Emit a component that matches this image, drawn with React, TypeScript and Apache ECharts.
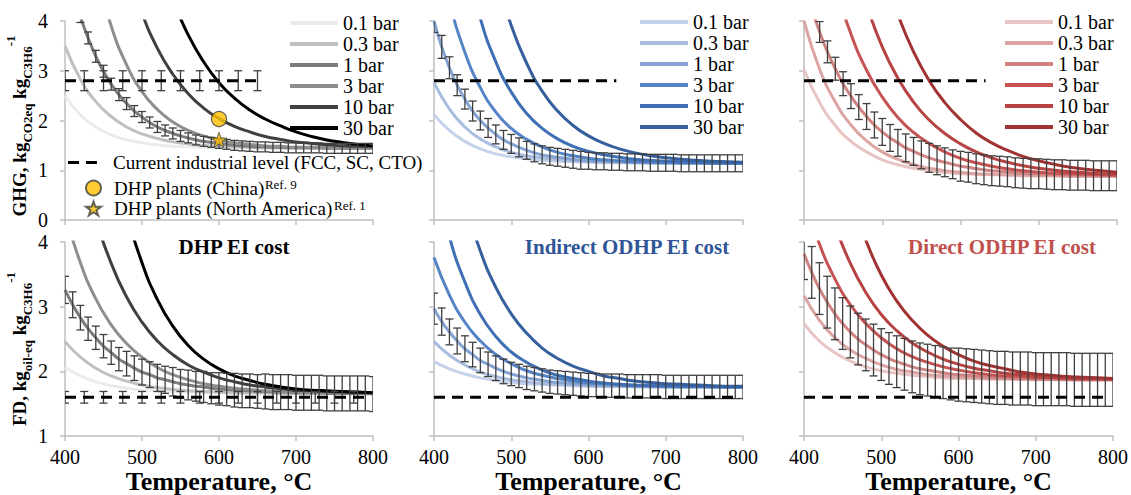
import React, { useEffect, useRef } from 'react';
import * as echarts from 'echarts';

const FONT = 'Liberation Serif';

const pressures = ['0.1 bar', '0.3 bar', '1 bar', '3 bar', '10 bar', '30 bar'];
const temps20 = [400, 420, 440, 460, 480, 500, 520, 540, 560, 580, 600, 620, 640, 660, 680, 700, 720, 740, 760, 780, 800];
const temps10 = [400, 410, 420, 430, 440, 450, 460, 470, 480, 490, 500, 510, 520, 530, 540, 550, 560, 570, 580, 590, 600, 610, 620, 630, 640, 650, 660, 670, 680, 690, 700, 710, 720, 730, 740, 750, 760, 770, 780, 790, 800];

// Current industrial level (dashed)
const ghgLevel = 2.8;
const fdLevel = 1.6;
const ghgDhpSpan = [400, 652];
const ghgIndSpan = [400, 636];
const ghgDirSpan = [400, 632];
const fdSpan = [400, 792];
const levelTempsGhg = [400, 425, 450, 475, 500, 525, 550, 575, 600, 625, 650];
const levelTempsFd = [400, 425, 450, 475, 500, 525, 550, 575, 600, 625, 650, 675, 700, 725, 750, 775];
const ghgLevelErr = 0.2;
const fdLevelErr = 0.09;

// DHP plants
const chinaPlant = [600, 2.03];
const naPlant = [600, 1.61];
const chinaRef = 'Ref. 9';
const naRef = 'Ref. 1';

// ---------- GHG, DHP ----------
const ghgDhp01 = [2.50, 2.11, 1.87, 1.71, 1.61, 1.55, 1.51, 1.48, 1.47, 1.46, 1.45, 1.45, 1.45, 1.44, 1.44, 1.44, 1.44, 1.44, 1.44, 1.44, 1.44];
const ghgDhp03 = [3.50, 2.83, 2.38, 2.08, 1.87, 1.73, 1.64, 1.57, 1.53, 1.50, 1.48, 1.47, 1.46, 1.45, 1.45, 1.45, 1.44, 1.44, 1.44, 1.44, 1.44];
const ghgDhp1 = [5.24, 4.62, 4.09, 3.66, 3.29, 2.99, 2.73, 2.52, 2.34, 2.19, 2.07, 1.96, 1.87, 1.80, 1.74, 1.69, 1.65, 1.61, 1.58, 1.56, 1.54, 1.52, 1.50, 1.49, 1.48, 1.47, 1.47, 1.46, 1.46, 1.45, 1.45, 1.45, 1.45, 1.45, 1.44, 1.44, 1.44, 1.44, 1.44, 1.44, 1.44];
const ghgDhp1Err = [0.12, 0.12, 0.12, 0.12, 0.12, 0.12, 0.12, 0.12, 0.12, 0.11, 0.11, 0.11, 0.11, 0.11, 0.11, 0.11, 0.10, 0.10, 0.10, 0.10, 0.10, 0.10, 0.10, 0.10, 0.10, 0.10, 0.10, 0.10, 0.10, 0.10, 0.10, 0.10, 0.10, 0.10, 0.10, 0.10, 0.10, 0.10, 0.10, 0.10, 0.10];
const ghgDhp3 = [null, null, 5.05, 3.90, 3.12, 2.58, 2.22, 1.97, 1.80, 1.69, 1.61, 1.55, 1.52, 1.49, 1.48, 1.46, 1.46, 1.45, 1.45, 1.44, 1.44];
const ghgDhp10 = [null, null, null, null, 5.12, 4.16, 3.45, 2.93, 2.54, 2.25, 2.04, 1.88, 1.77, 1.68, 1.62, 1.57, 1.54, 1.51, 1.49, 1.48, 1.47];
const ghgDhp30 = [null, null, null, null, null, null, 5.37, 4.43, 3.72, 3.18, 2.76, 2.45, 2.21, 2.03, 1.89, 1.77, 1.68, 1.61, 1.56, 1.52, 1.49];

// ---------- GHG, indirect ODHP ----------
const ghgInd01 = [2.12, 1.80, 1.58, 1.43, 1.33, 1.27, 1.23, 1.20, 1.18, 1.17, 1.16, 1.15, 1.15, 1.15, 1.14, 1.14, 1.14, 1.14, 1.14, 1.14, 1.14];
const ghgInd03 = [2.76, 2.23, 1.87, 1.63, 1.47, 1.36, 1.29, 1.25, 1.21, 1.19, 1.18, 1.17, 1.16, 1.15, 1.15, 1.15, 1.14, 1.14, 1.14, 1.14, 1.14];
const ghgInd1 = [4.00, 3.48, 3.06, 2.71, 2.43, 2.19, 2.00, 1.85, 1.72, 1.61, 1.53, 1.46, 1.40, 1.35, 1.31, 1.28, 1.26, 1.24, 1.22, 1.20, 1.19, 1.18, 1.18, 1.17, 1.17, 1.16, 1.16, 1.16, 1.15, 1.15, 1.15, 1.15, 1.14, 1.14, 1.14, 1.14, 1.14, 1.14, 1.14, 1.14, 1.14];
const ghgInd1Err = [0.23, 0.23, 0.22, 0.21, 0.20, 0.20, 0.19, 0.19, 0.19, 0.19, 0.19, 0.19, 0.18, 0.18, 0.18, 0.18, 0.18, 0.18, 0.18, 0.18, 0.17, 0.17, 0.17, 0.17, 0.17, 0.17, 0.17, 0.17, 0.17, 0.17, 0.17, 0.17, 0.17, 0.17, 0.17, 0.17, 0.17, 0.17, 0.17, 0.17, 0.17];
const ghgInd3 = [5.94, 4.41, 3.37, 2.66, 2.17, 1.84, 1.62, 1.47, 1.36, 1.29, 1.24, 1.21, 1.19, 1.17, 1.16, 1.15, 1.15, 1.15, 1.14, 1.14, 1.14];
const ghgInd10 = [null, 7.08, 5.30, 4.05, 3.18, 2.57, 2.14, 1.84, 1.63, 1.48, 1.38, 1.31, 1.26, 1.22, 1.20, 1.18, 1.17, 1.16, 1.15, 1.15, 1.14];
const ghgInd30 = [null, null, null, 6.43, 4.97, 3.91, 3.15, 2.59, 2.19, 1.90, 1.69, 1.54, 1.43, 1.35, 1.29, 1.25, 1.22, 1.20, 1.18, 1.17, 1.16];

// ---------- GHG, direct ODHP ----------
const ghgDir01 = [3.02, 2.36, 1.90, 1.58, 1.37, 1.21, 1.11, 1.04, 0.99, 0.96, 0.93, 0.92, 0.91, 0.90, 0.89, 0.89, 0.89, 0.88, 0.88, 0.88, 0.88];
const ghgDir03 = [4.00, 3.03, 2.37, 1.91, 1.59, 1.37, 1.22, 1.11, 1.04, 0.99, 0.96, 0.93, 0.92, 0.91, 0.90, 0.89, 0.89, 0.88, 0.88, 0.88, 0.88];
const ghgDir1 = [4.77, 4.24, 3.78, 3.38, 3.04, 2.74, 2.49, 2.27, 2.08, 1.91, 1.77, 1.65, 1.55, 1.45, 1.38, 1.31, 1.25, 1.20, 1.16, 1.12, 1.08, 1.06, 1.03, 1.01, 0.99, 0.98, 0.97, 0.95, 0.94, 0.93, 0.93, 0.92, 0.91, 0.91, 0.90, 0.90, 0.90, 0.89, 0.89, 0.89, 0.89];
const ghgDir1Err = [0.20, 0.20, 0.21, 0.22, 0.23, 0.24, 0.25, 0.25, 0.26, 0.26, 0.27, 0.27, 0.27, 0.28, 0.28, 0.28, 0.29, 0.29, 0.29, 0.29, 0.30, 0.30, 0.30, 0.30, 0.30, 0.30, 0.30, 0.30, 0.30, 0.30, 0.30, 0.30, 0.30, 0.30, 0.30, 0.30, 0.30, 0.30, 0.30, 0.30, 0.30];
const ghgDir3 = [null, 6.03, 4.72, 3.74, 3.01, 2.47, 2.06, 1.76, 1.54, 1.37, 1.24, 1.15, 1.08, 1.03, 0.99, 0.96, 0.94, 0.93, 0.92, 0.91, 0.90];
const ghgDir10 = [null, null, null, 5.42, 4.32, 3.48, 2.85, 2.37, 2.01, 1.74, 1.53, 1.37, 1.25, 1.16, 1.09, 1.04, 1.00, 0.97, 0.95, 0.93, 0.92];
const ghgDir30 = [null, null, null, null, null, 5.10, 4.13, 3.38, 2.80, 2.36, 2.02, 1.75, 1.55, 1.40, 1.28, 1.19, 1.12, 1.06, 1.02, 0.99, 0.96];

// ---------- FD, DHP ----------
const fdDhp01 = [2.06, 1.93, 1.84, 1.78, 1.74, 1.71, 1.70, 1.69, 1.68, 1.67, 1.67, 1.67, 1.66, 1.66, 1.66, 1.66, 1.66, 1.66, 1.66, 1.66, 1.66];
const fdDhp03 = [2.46, 2.22, 2.05, 1.93, 1.85, 1.79, 1.75, 1.72, 1.70, 1.69, 1.68, 1.67, 1.67, 1.67, 1.66, 1.66, 1.66, 1.66, 1.66, 1.66, 1.66];
const fdDhp1 = [3.26, 3.03, 2.83, 2.66, 2.52, 2.39, 2.29, 2.19, 2.12, 2.05, 1.99, 1.95, 1.90, 1.87, 1.84, 1.81, 1.79, 1.77, 1.76, 1.74, 1.73, 1.72, 1.71, 1.70, 1.70, 1.69, 1.69, 1.68, 1.68, 1.68, 1.67, 1.67, 1.67, 1.67, 1.66, 1.66, 1.66, 1.66, 1.66, 1.66, 1.65];
const fdDhp1Err = [0.21, 0.20, 0.19, 0.18, 0.18, 0.18, 0.18, 0.18, 0.19, 0.19, 0.20, 0.20, 0.21, 0.21, 0.22, 0.22, 0.23, 0.23, 0.24, 0.24, 0.25, 0.25, 0.26, 0.26, 0.26, 0.26, 0.27, 0.27, 0.27, 0.27, 0.27, 0.27, 0.27, 0.27, 0.27, 0.27, 0.27, 0.27, 0.27, 0.27, 0.27];
const fdDhp3 = [4.45, 3.68, 3.12, 2.72, 2.43, 2.22, 2.06, 1.95, 1.87, 1.81, 1.77, 1.74, 1.72, 1.70, 1.69, 1.68, 1.68, 1.67, 1.67, 1.66, 1.66];
const fdDhp10 = [null, 5.34, 4.38, 3.67, 3.15, 2.76, 2.47, 2.26, 2.10, 1.99, 1.90, 1.84, 1.79, 1.76, 1.73, 1.71, 1.70, 1.69, 1.68, 1.67, 1.67];
const fdDhp30 = [null, null, null, 5.58, 4.47, 3.68, 3.11, 2.70, 2.40, 2.19, 2.04, 1.93, 1.86, 1.80, 1.76, 1.73, 1.71, 1.70, 1.69, 1.68, 1.67];

// ---------- FD, indirect ODHP ----------
const fdInd01 = [2.15, 2.04, 1.96, 1.90, 1.86, 1.83, 1.81, 1.80, 1.79, 1.78, 1.77, 1.77, 1.77, 1.76, 1.76, 1.76, 1.76, 1.76, 1.76, 1.76, 1.76];
const fdInd03 = [2.46, 2.25, 2.10, 1.99, 1.92, 1.87, 1.84, 1.81, 1.80, 1.79, 1.78, 1.77, 1.77, 1.77, 1.76, 1.76, 1.76, 1.76, 1.76, 1.76, 1.76];
const fdInd1 = [2.97, 2.77, 2.61, 2.47, 2.35, 2.26, 2.17, 2.11, 2.05, 2.00, 1.96, 1.93, 1.90, 1.88, 1.86, 1.84, 1.83, 1.82, 1.81, 1.80, 1.79, 1.79, 1.78, 1.78, 1.78, 1.77, 1.77, 1.77, 1.77, 1.77, 1.76, 1.76, 1.76, 1.76, 1.76, 1.76, 1.76, 1.76, 1.76, 1.76, 1.76];
const fdInd1Err = [0.24, 0.21, 0.20, 0.20, 0.20, 0.19, 0.19, 0.19, 0.19, 0.19, 0.18, 0.18, 0.18, 0.18, 0.18, 0.18, 0.18, 0.18, 0.18, 0.18, 0.18, 0.18, 0.18, 0.18, 0.18, 0.18, 0.18, 0.18, 0.18, 0.18, 0.18, 0.18, 0.18, 0.18, 0.18, 0.18, 0.18, 0.18, 0.18, 0.18, 0.18];
const fdInd3 = [3.76, 3.18, 2.76, 2.47, 2.26, 2.12, 2.01, 1.94, 1.89, 1.85, 1.82, 1.81, 1.79, 1.78, 1.78, 1.77, 1.77, 1.77, 1.76, 1.76, 1.76];
const fdInd10 = [5.10, 4.08, 3.38, 2.88, 2.54, 2.30, 2.14, 2.02, 1.94, 1.89, 1.85, 1.82, 1.80, 1.79, 1.78, 1.78, 1.77, 1.77, 1.77, 1.76, 1.76];
const fdInd30 = [null, null, 4.63, 3.86, 3.30, 2.89, 2.59, 2.36, 2.20, 2.08, 2.00, 1.93, 1.89, 1.85, 1.83, 1.81, 1.80, 1.79, 1.78, 1.77, 1.77];

// ---------- FD, direct ODHP ----------
const fdDir01 = [2.74, 2.47, 2.29, 2.16, 2.07, 2.01, 1.97, 1.94, 1.92, 1.90, 1.89, 1.89, 1.88, 1.88, 1.88, 1.87, 1.87, 1.87, 1.87, 1.87, 1.87];
const fdDir03 = [3.17, 2.79, 2.52, 2.33, 2.20, 2.10, 2.03, 1.99, 1.95, 1.93, 1.91, 1.90, 1.89, 1.89, 1.88, 1.88, 1.88, 1.87, 1.87, 1.87, 1.87];
const fdDir1 = [3.82, 3.53, 3.28, 3.07, 2.89, 2.74, 2.61, 2.50, 2.41, 2.33, 2.26, 2.20, 2.15, 2.11, 2.07, 2.04, 2.02, 2.00, 1.98, 1.96, 1.95, 1.94, 1.93, 1.92, 1.91, 1.90, 1.90, 1.89, 1.89, 1.89, 1.88, 1.88, 1.88, 1.88, 1.88, 1.87, 1.87, 1.87, 1.87, 1.87, 1.87];
const fdDir1Err = [0.40, 0.40, 0.40, 0.40, 0.40, 0.40, 0.40, 0.40, 0.40, 0.40, 0.40, 0.40, 0.40, 0.40, 0.40, 0.40, 0.40, 0.40, 0.40, 0.40, 0.41, 0.41, 0.41, 0.41, 0.41, 0.41, 0.41, 0.41, 0.41, 0.41, 0.41, 0.41, 0.41, 0.41, 0.41, 0.41, 0.41, 0.41, 0.41, 0.41, 0.41];
const fdDir3 = [4.69, 3.97, 3.43, 3.03, 2.74, 2.52, 2.35, 2.23, 2.14, 2.07, 2.02, 1.98, 1.95, 1.93, 1.92, 1.90, 1.90, 1.89, 1.88, 1.88, 1.88];
const fdDir10 = [null, 5.05, 4.26, 3.67, 3.22, 2.88, 2.63, 2.44, 2.30, 2.19, 2.11, 2.05, 2.01, 1.97, 1.95, 1.93, 1.91, 1.90, 1.89, 1.89, 1.88];
const fdDir30 = [null, null, null, 4.74, 4.03, 3.49, 3.09, 2.79, 2.56, 2.39, 2.26, 2.16, 2.09, 2.04, 1.99, 1.96, 1.94, 1.92, 1.91, 1.90, 1.89];

const grayColors = ['#ebebeb', '#c0c0c0', '#7c7c7c', '#8e8e8e', '#404040', '#000000'];
const blueColors = ['#c5d3ea', '#a9bde0', '#84a3d3', '#5584c6', '#3f6fb5', '#355f9d'];
const redColors = ['#e9c4c4', '#dda4a4', '#d08383', '#c65353', '#b74343', '#a23333'];

const levelName = 'Current industrial level (FCC, SC, CTO)';
const chinaName = 'DHP plants (China)';
const naName = 'DHP plants (North America)';
const STAR = 'path://M50,2 L61.8,36.2 L97.6,36.2 L68.6,57.4 L79.6,91.6 L50,70.6 L20.4,91.6 L31.4,57.4 L2.4,36.2 L38.2,36.2 Z';
const DASH_ICON = 'path://M0,0 L11,0 L11,3 L0,3 Z M18,0 L29,0 L29,3 L18,3 Z';

const panels = [
  { key: 'g1', curves: [ghgDhp01, ghgDhp03, ghgDhp1, ghgDhp3, ghgDhp10, ghgDhp30], errIndex: 2, err: ghgDhp1Err, colors: grayColors, level: ghgLevel, span: ghgDhpSpan, levelT: levelTempsGhg, levelErr: ghgLevelErr },
  { key: 'g2', curves: [ghgInd01, ghgInd03, ghgInd1, ghgInd3, ghgInd10, ghgInd30], errIndex: 2, err: ghgInd1Err, colors: blueColors, level: ghgLevel, span: ghgIndSpan, levelT: null, levelErr: 0 },
  { key: 'g3', curves: [ghgDir01, ghgDir03, ghgDir1, ghgDir3, ghgDir10, ghgDir30], errIndex: 2, err: ghgDir1Err, colors: redColors, level: ghgLevel, span: ghgDirSpan, levelT: null, levelErr: 0 },
  { key: 'f1', curves: [fdDhp01, fdDhp03, fdDhp1, fdDhp3, fdDhp10, fdDhp30], errIndex: 2, err: fdDhp1Err, colors: grayColors, level: fdLevel, span: fdSpan, levelT: levelTempsFd, levelErr: fdLevelErr },
  { key: 'f2', curves: [fdInd01, fdInd03, fdInd1, fdInd3, fdInd10, fdInd30], errIndex: 2, err: fdInd1Err, colors: blueColors, level: fdLevel, span: fdSpan, levelT: null, levelErr: 0 },
  { key: 'f3', curves: [fdDir01, fdDir03, fdDir1, fdDir3, fdDir10, fdDir30], errIndex: 2, err: fdDir1Err, colors: redColors, level: fdLevel, span: fdSpan, levelT: null, levelErr: 0 },
];

const gridBoxes = [
  { left: 65, top: 21, width: 308, height: 199 },
  { left: 434, top: 21, width: 309, height: 199 },
  { left: 804, top: 21, width: 313, height: 199 },
  { left: 65, top: 242, width: 308, height: 196 },
  { left: 434, top: 242, width: 309, height: 196 },
  { left: 804, top: 242, width: 313, height: 196 },
];

const errorBarRender = (params: any, api: any) => {
  const x = api.value(0);
  const lo = api.value(1);
  const hi = api.value(2);
  const top = api.coord([x, hi]);
  const bot = api.coord([x, lo]);
  const cw = 4;
  const style = { stroke: '#3f3f3f', lineWidth: 1.3, fill: 'none' };
  return {
    type: 'group',
    children: [
      { type: 'line', shape: { x1: top[0], y1: top[1], x2: bot[0], y2: bot[1] }, style },
      { type: 'line', shape: { x1: top[0] - cw, y1: top[1], x2: top[0] + cw, y2: top[1] }, style },
      { type: 'line', shape: { x1: bot[0] - cw, y1: bot[1], x2: bot[0] + cw, y2: bot[1] }, style },
    ],
  };
};

function buildOption() {
  const axisLineStyle = { color: '#bfbfbf', width: 1.5 };
  const grid = gridBoxes.map((b) => ({ ...b, containLabel: false }));
  const xAxis = gridBoxes.map((_, i) => ({
    type: 'value',
    gridIndex: i,
    min: 400,
    max: 800,
    interval: 100,
    axisLine: { show: true, onZero: false, lineStyle: axisLineStyle },
    axisTick: { show: true, length: 5, lineStyle: axisLineStyle },
    axisLabel: { show: i >= 3, fontSize: 20, color: '#000', fontFamily: FONT, margin: 11 },
    splitLine: { show: false },
    name: i >= 3 ? 'Temperature, °C' : '',
    nameLocation: 'middle',
    nameGap: 26,
    nameTextStyle: { fontSize: 26, fontWeight: 'bold', color: '#000', fontFamily: FONT },
  }));
  const yAxis = gridBoxes.map((_, i) => ({
    type: 'value',
    gridIndex: i,
    min: i < 3 ? 0 : 1,
    max: 4,
    interval: 1,
    axisLine: { show: true, onZero: false, lineStyle: axisLineStyle },
    axisTick: { show: true, length: 5, lineStyle: axisLineStyle },
    axisLabel: { show: i === 0 || i === 3, fontSize: 20, color: '#000', fontFamily: FONT, margin: 17 },
    splitLine: { show: false },
  }));

  const series: any[] = [];
  panels.forEach((p, gi) => {
    p.curves.forEach((vals: any[], j: number) => {
      const ts = vals.length === temps10.length ? temps10 : temps20;
      const data = ts.map((t, k) => [t, vals[k]]).filter((d) => d[1] !== null && d[1] !== undefined);
      series.push({
        type: 'line',
        name: `${p.key}|${pressures[j]}`,
        xAxisIndex: gi,
        yAxisIndex: gi,
        data,
        smooth: 0.5,
        symbol: 'none',
        showSymbol: false,
        clip: true,
        silent: true,
        z: 2,
        lineStyle: { width: 3, color: p.colors[j] },
        itemStyle: { color: p.colors[j] },
      });
    });
    const c = p.curves[p.errIndex] as number[];
    series.push({
      type: 'custom',
      name: `${p.key}|err`,
      xAxisIndex: gi,
      yAxisIndex: gi,
      clip: true,
      silent: true,
      z: 3,
      renderItem: errorBarRender,
      encode: { x: 0, y: [1, 2] },
      data: temps10.map((t, k) => [t, c[k] - p.err[k], c[k] + p.err[k]]),
    });
    series.push({
      type: 'line',
      name: gi === 0 ? levelName : `${p.key}|level`,
      xAxisIndex: gi,
      yAxisIndex: gi,
      data: [[p.span[0], p.level], [p.span[1], p.level]],
      symbol: 'none',
      showSymbol: false,
      silent: true,
      z: 4,
      lineStyle: { width: 3, color: '#000', type: [11, 7] },
      itemStyle: { color: '#000' },
    });
    if (p.levelT) {
      series.push({
        type: 'custom',
        name: `${p.key}|levelErr`,
        xAxisIndex: gi,
        yAxisIndex: gi,
        clip: true,
        silent: true,
        z: 4,
        renderItem: errorBarRender,
        encode: { x: 0, y: [1, 2] },
        data: p.levelT.map((t: number) => [t, p.level - p.levelErr, p.level + p.levelErr]),
      });
    }
  });
  series.push({
    type: 'scatter',
    name: chinaName,
    xAxisIndex: 0,
    yAxisIndex: 0,
    data: [chinaPlant],
    symbol: 'circle',
    symbolSize: 15,
    z: 6,
    silent: true,
    itemStyle: { color: '#ffc000', borderColor: '#404040', borderWidth: 1.2 },
  });
  series.push({
    type: 'scatter',
    name: naName,
    xAxisIndex: 0,
    yAxisIndex: 0,
    data: [naPlant],
    symbol: STAR,
    symbolSize: 16,
    symbolKeepAspect: true,
    z: 6,
    silent: true,
    itemStyle: { color: '#ffc000', borderColor: '#404040', borderWidth: 1 },
  });

  const pressureLegend = (key: string, left: number, top: number) => ({
    orient: 'vertical',
    left,
    top,
    padding: 0,
    icon: 'rect',
    itemWidth: 48,
    itemHeight: 4,
    itemGap: 1,
    selectedMode: false,
    data: pressures.map((pr) => `${key}|${pr}`),
    formatter: (n: string) => `{t|${n.split('|')[1]}}`,
    itemStyle: { borderWidth: 0 },
    textStyle: {
      rich: { t: { fontSize: 20, lineHeight: 20, color: '#000', fontFamily: FONT } },
    },
  });
  const refMap: Record<string, string> = { [chinaName]: chinaRef, [naName]: naRef };

  const legend = [
    pressureLegend('g1', 290, 13),
    pressureLegend('g2', 640, 12),
    pressureLegend('g3', 1005, 12),
    {
      orient: 'vertical',
      left: 68,
      top: 153,
      padding: 0,
      itemWidth: 29,
      itemHeight: 3,
      selectedMode: false,
      data: [{ name: levelName, icon: DASH_ICON }],
      itemStyle: { color: '#000', borderWidth: 0 },
      formatter: (n: string) => `{t|${n}}`,
      textStyle: {
        rich: { t: { fontSize: 19, lineHeight: 20, color: '#000', fontFamily: FONT, padding: [0, 0, 0, 11] } },
      },
    },
    {
      orient: 'vertical',
      left: 85,
      top: 178,
      padding: 0,
      itemWidth: 15,
      itemHeight: 15,
      itemGap: 1,
      selectedMode: false,
      data: [chinaName, naName],
      formatter: (n: string) => `{t|${n}}{s|${refMap[n]}}`,
      textStyle: {
        rich: {
          t: { fontSize: 19, lineHeight: 20, color: '#000', fontFamily: FONT, padding: [0, 0, 0, 8] },
          s: { fontSize: 13, lineHeight: 13, color: '#000', fontFamily: FONT, verticalAlign: 'top' },
        },
      },
    },
  ];

  const titleStyle = { fontSize: 21, fontWeight: 'bold', fontFamily: FONT };
  const title = [
    { text: 'DHP EI cost', left: 234, top: 236, textAlign: 'center', padding: 0, textStyle: { ...titleStyle, color: '#000' } },
    { text: 'Indirect ODHP EI cost', left: 627, top: 236, textAlign: 'center', padding: 0, textStyle: { ...titleStyle, color: '#2f5597' } },
    { text: 'Direct ODHP EI cost', left: 1002, top: 236, textAlign: 'center', padding: 0, textStyle: { ...titleStyle, color: '#c0504d' } },
  ];

  const yRich = {
    m: { fontSize: 19, fontWeight: 'bold', fontFamily: FONT, fill: '#000', lineHeight: 30 },
    b: { fontSize: 13, fontWeight: 'bold', fontFamily: FONT, fill: '#000', lineHeight: 14, verticalAlign: 'bottom' },
    p: { fontSize: 13, fontWeight: 'bold', fontFamily: FONT, fill: '#000', lineHeight: 14, verticalAlign: 'top' },
  };
  const graphic = [
    {
      type: 'text',
      x: 19,
      y: 126,
      rotation: Math.PI / 2,
      silent: true,
      style: { text: '{m|GHG, kg}{b|CO2eq}{m| kg}{b|C3H6}{p|-1}', rich: yRich, align: 'center', verticalAlign: 'middle', fontFamily: FONT },
    },
    {
      type: 'text',
      x: 19,
      y: 349,
      rotation: Math.PI / 2,
      silent: true,
      style: { text: '{m|FD, kg}{b|oil-eq}{m| kg}{b|C3H6}{p|-1}', rich: yRich, align: 'center', verticalAlign: 'middle', fontFamily: FONT },
    },
  ];

  return {
    animation: false,
    backgroundColor: '#ffffff',
    textStyle: { fontFamily: FONT },
    grid,
    xAxis,
    yAxis,
    series,
    legend,
    title,
    graphic,
  };
}

export default function App() {
  const ref = useRef<HTMLDivElement>(null);
  useEffect(() => {
    if (!ref.current) return;
    const chart = echarts.init(ref.current, null, { renderer: 'svg' });
    chart.setOption(buildOption() as any);
    return () => chart.dispose();
  }, []);
  return <div ref={ref} style={{ position: 'fixed', left: 0, top: 0, width: 1131, height: 495, background: '#fff' }} />;
}
